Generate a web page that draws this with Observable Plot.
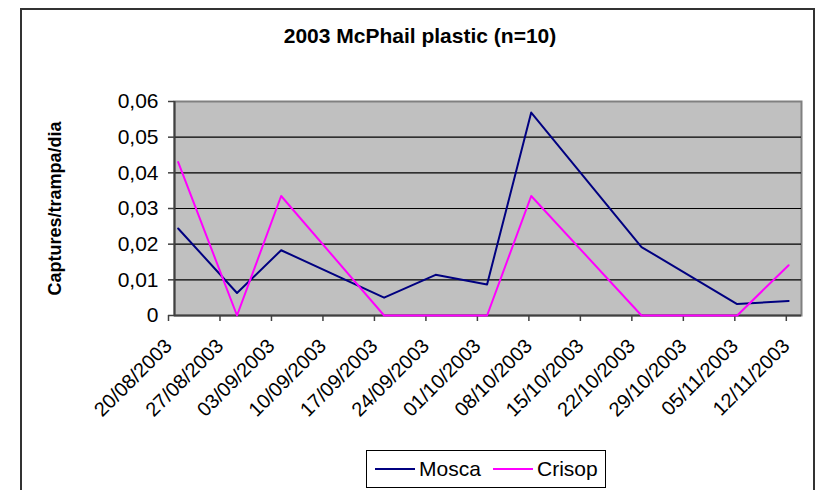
<!DOCTYPE html>
<html>
<head>
<meta charset="utf-8">
<script src="https://cdn.jsdelivr.net/npm/d3@7"></script>
<script src="https://cdn.jsdelivr.net/npm/@observablehq/plot@0.6"></script>
<style>
  html, body { margin: 0; padding: 0; background: #fff; overflow: hidden; }
  #wrap { position: relative; width: 823px; height: 490px; overflow: hidden; font-family: "Liberation Sans", Arial, sans-serif; }
  #frame { position: absolute; left: 20px; top: 8px; width: 795px; height: 520px; border: 2px solid #333; box-sizing: border-box; pointer-events: none; }
  #title { position: absolute; left: 0; width: 840px; top: 24px; text-align: center; font-weight: bold; font-size: 21px; color: #000; }
  #chart { position: absolute; left: 0; top: 0; }
  #legend { position: absolute; left: 366px; top: 450px; width: 240px; height: 38px; border: 1.5px solid #000; box-sizing: border-box; background: #fff; }
  .item { position: absolute; top: 0; height: 35px; display: flex; align-items: center; font-size: 21px; color: #000; }
  .sw { display: inline-block; width: 40px; height: 0; border-top: 2px solid; margin-right: 4px; }
</style>
</head>
<body>
<div id="wrap">
  <div id="chart"></div>
  <div id="frame"></div>
  <div id="title"></div>
  <div id="legend"></div>
</div>
<script>
const chartTitle = "2003 McPhail plastic (n=10)";
const yLabel = "Captures/trampa/dia";
const seriesNames = ["Mosca", "Crisop"];
const seriesColors = ["#000080", "#FF00FF"];
const sampleDates = ["2003-08-20T12:00Z", "2003-08-28T12:00Z", "2003-09-03T12:00Z", "2003-09-17T12:00Z", "2003-09-24T12:00Z",
                     "2003-10-01T12:00Z", "2003-10-07T12:00Z", "2003-10-22T12:00Z", "2003-11-04T12:00Z", "2003-11-11T12:00Z"];
const mosca  = [0.0244, 0.0063, 0.0183, 0.0050, 0.0114, 0.0087, 0.0569, 0.0192, 0.0032, 0.0041];
const crisop = [0.0430, 0.0000, 0.0335, 0.0000, 0.0000, 0.0000, 0.0335, 0.0000, 0.0000, 0.0141];
const tickDates = ["2003-08-20", "2003-08-27", "2003-09-03", "2003-09-10", "2003-09-17", "2003-09-24", "2003-10-01",
                   "2003-10-08", "2003-10-15", "2003-10-22", "2003-10-29", "2003-11-05", "2003-11-12"];
const xDomain = ["2003-08-20T00:00Z", "2003-11-13T06:00Z"];
const yTicks = [0, 0.01, 0.02, 0.03, 0.04, 0.05, 0.06];

const rows = [];
sampleDates.forEach((d, i) => {
  rows.push({date: new Date(d), value: mosca[i], series: seriesNames[0]});
});
sampleDates.forEach((d, i) => {
  rows.push({date: new Date(d), value: crisop[i], series: seriesNames[1]});
});

const fmtDate = d3.utcFormat("%d/%m/%Y");
const fmtY = v => v === 0 ? "0" : v.toFixed(2).replace(".", ",");

const plot = Plot.plot({
  width: 823,
  height: 490,
  marginLeft: 174,
  marginRight: 22,
  marginTop: 101,
  marginBottom: 175,
  style: {fontFamily: "'Liberation Sans', Arial, sans-serif", color: "#000", background: "transparent", overflow: "visible"},
  x: {type: "utc", domain: xDomain.map(d => new Date(d))},
  y: {domain: [0, 0.06]},
  color: {domain: seriesNames, range: seriesColors},
  marks: [
    Plot.frame({fill: "#C0C0C0", stroke: "#808080", strokeWidth: 2}),
    Plot.gridY(yTicks.filter(t => t > 0 && t < 0.06), {stroke: "#000", strokeOpacity: 1, strokeWidth: 1.2}),
    Plot.ruleY([0], {stroke: "#404040", strokeWidth: 2}),
    Plot.ruleX([new Date(xDomain[0])], {stroke: "#404040", strokeWidth: 2}),
    Plot.axisY({ticks: yTicks, tickFormat: fmtY, tickSize: 6, tickPadding: 10, fontSize: 21, stroke: "#404040", strokeWidth: 1.5, label: null}),
    Plot.axisX({ticks: tickDates.map(d => new Date(d)), tickFormat: fmtDate, tickRotate: -45, tickSize: 6, tickPadding: 21, dx: -6,
                fontSize: 20, stroke: "#404040", strokeWidth: 1.5, label: null}),
    Plot.text([yLabel], {frameAnchor: "left", textAnchor: "middle", dx: -119, rotate: -90, fontSize: 18, fontWeight: "bold", fill: "#000"}),
    Plot.lineY(rows, {x: "date", y: "value", stroke: "series", strokeWidth: 2, z: "series"})
  ]
});
document.getElementById("chart").appendChild(plot);
document.getElementById("title").textContent = chartTitle;

const legend = document.getElementById("legend");
const legendLeft = [8, 126];
seriesNames.forEach((name, i) => {
  const it = document.createElement("div");
  it.className = "item";
  it.style.left = legendLeft[i] + "px";
  const sw = document.createElement("span");
  sw.className = "sw";
  sw.style.borderTopColor = seriesColors[i];
  it.appendChild(sw);
  it.appendChild(document.createTextNode(name));
  legend.appendChild(it);
});
</script>
</body>
</html>
